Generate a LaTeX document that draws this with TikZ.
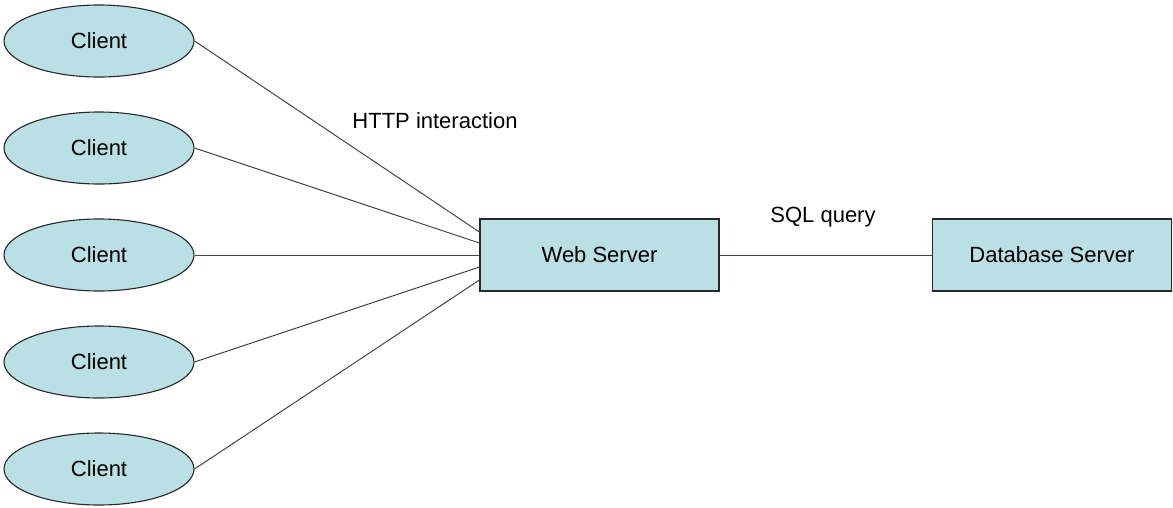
\documentclass[tikz,border=0pt]{standalone}
\usepackage{fontspec}
\setmainfont{Liberation Sans}
\usetikzlibrary{shapes.geometric,calc}
\definecolor{boxfill}{RGB}{186,223,228}
\definecolor{edge}{RGB}{40,40,40}
\definecolor{conn}{RGB}{70,70,70}
\tikzset{
  client/.style={ellipse, draw=edge, fill=boxfill, line width=1.1pt,
    minimum width=190pt, minimum height=72pt, inner sep=0pt,
    font=\fontsize{22}{26}\selectfont},
  server/.style={rectangle, draw=edge, fill=boxfill, line width=1.2pt,
    minimum width=239pt, minimum height=72pt, inner sep=0pt,
    font=\fontsize{22}{26}\selectfont},
  lbl/.style={font=\fontsize{22}{26}\selectfont, inner sep=0pt},
  conn/.style={draw=conn, line width=1pt}
}
\begin{document}
\begin{tikzpicture}[x=1pt,y=-1pt]
\useasboundingbox (0,0) rectangle (1173,507);
\node[client] (c1) at (99,41) {Client};
\node[client] (c2) at (99,148) {Client};
\node[client] (c3) at (99,255) {Client};
\node[client] (c4) at (99,362) {Client};
\node[client] (c5) at (99,469) {Client};
\node[server] (web) at (599.5,255) {Web Server};
\node[server] (db) at (1052,255) {Database Server};
\coordinate (w1) at ($(web.west)+(0,-23)$);
\coordinate (w2) at ($(web.west)+(0,-12)$);
\coordinate (w4) at ($(web.west)+(0,12)$);
\coordinate (w5) at ($(web.west)+(0,25)$);
\draw[conn] (c1.east) -- (w1);
\draw[conn] (c2.east) -- (w2);
\draw[conn] (c3.east) -- (web.west);
\draw[conn] (c4.east) -- (w4);
\draw[conn] (c5.east) -- (w5);
\draw[conn] (web.east) -- (db.west);
\node[lbl] (http) at (435,121) {HTTP interaction};
\node[lbl] (sql) at (823,217) {SQL query};
\end{tikzpicture}
\end{document}
